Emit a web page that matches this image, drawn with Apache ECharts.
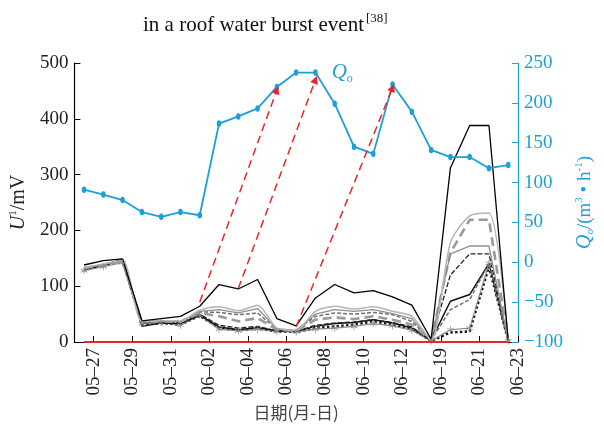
<!DOCTYPE html>
<html>
<head>
<meta charset="utf-8">
<script src="https://cdn.jsdelivr.net/npm/echarts@6/dist/echarts.min.js"></script>
<style>
  html, body { margin: 0; padding: 0; background: #fff; }
  #chart { width: 604px; height: 426px; }
</style>
</head>
<body>
<div id="chart"></div>
<script>
// Date ticks shown along the bottom axis (every other one is labelled)
const dateTicks = ['05-26', '05-27', '05-28', '05-29', '05-30', '05-31', '06-01', '06-02',
  '06-03', '06-04', '06-05', '06-06', '06-07', '06-08', '06-09', '06-10', '06-11', '06-12',
  '06-18', '06-19', '06-20', '06-21', '06-22', '06-23'];

// Sampling points of the monitoring record
const samples = ['1', '2', '3', '4', '5', '6', '7', '8', '9', '10', '11', '12', '13', '14',
  '15', '16', '17', '18', '19', '20', '21', '22', '23'];

// Water inflow Qo, m3/h (right axis)
const qFlow = [91, 85, 78, 63, 57, 63, 59, 174, 183, 193, 220, 238, 238, 199, 145, 136,
  223, 189, 141, 132, 132, 118, 122];

// Electrode potential U1 of the individual channels, mV (left axis)
const uTop      = [138, 146, 149, 38, 42, 46, 64, 103, 95, 112, 42, 29, 79, 103, 88, 92, 81, 66, 5, 312, 388, 388, 2];
const uLight    = [133, 140, 146, 37, 38, 38, 57, 63, 56, 66, 25, 21, 55, 64, 59, 63, 55, 46, 3, 178, 226, 231, 2];
const uMid      = [132, 139, 145, 36, 37, 37, 55, 58, 52, 60, 24, 20, 50, 58, 55, 58, 51, 42, 3, 158, 172, 172, 2];
const uLongDash = [132, 138, 145, 35, 37, 36, 52, 46, 37, 43, 22, 20, 40, 44, 41, 46, 40, 31, 3, 160, 219, 219, 2];
const uShort    = [133, 139, 146, 36, 38, 37, 54, 53, 49, 52, 23, 21, 46, 52, 50, 53, 49, 37, 3, 58, 76, 141, 2];
const uBlkDash  = [131, 139, 147, 34, 36, 35, 50, 30, 25, 28, 20, 19, 30, 34, 36, 40, 35, 27, 3, 120, 158, 158, 2];
const uBlk      = [130, 138, 148, 28, 34, 33, 48, 27, 22, 26, 20, 19, 28, 33, 35, 40, 34, 25, 3, 73, 85, 141, 2];
const uStar     = [128, 135, 142, 33, 35, 30, 48, 23, 20, 23, 19, 18, 23, 25, 28, 33, 29, 21, 2, 22, 25, 141, 2];
const uDot      = [130, 137, 146, 32, 34, 31, 47, 25, 21, 24, 19, 18, 25, 28, 31, 37, 31, 23, 2, 17, 19, 135, 2];
const baseline  = [0, 0, 0, 0, 0, 0, 0, 0, 0, 0, 0, 0, 0, 0, 0, 0, 0, 0, 0, 0, 0, 0, 0];

// Lag arrows: from the potential rise to the inflow peak (x: sample index, y: Qo axis units)
const lagArrows = [
  { from: [6, -50], to: [10, 216] },
  { from: [8, -33], to: [12, 229] },
  { from: [11, -81], to: [16, 219] }
];
const qLabelIndex = 12;

const SERIF = '"Liberation Serif", "DejaVu Serif", serif';
const BLUE = '#1c9fdb';
const RED = '#e8262a';
const ASTERISK = 'path://M4.5,0 L5.5,0 L5.5,10 L4.5,10 Z M0.42,2.93 L0.92,2.07 L9.58,7.07 L9.08,7.93 Z M0.92,7.93 L0.42,7.07 L9.08,2.07 L9.58,2.93 Z';

const chart = echarts.init(document.getElementById('chart'), null, { renderer: 'canvas' });

function uSeries(data, color, width, type, extra) {
  return Object.assign({
    type: 'line', xAxisIndex: 1, yAxisIndex: 0, data: data,
    symbol: 'none', animation: false,
    lineStyle: { color: color, width: width, type: type }
  }, extra || {});
}

const qData = qFlow.map((v, i) => i === qLabelIndex ? {
  value: v,
  label: {
    show: true, position: 'right', distance: 14,
    formatter: '{q|Q}{o|o}',
    rich: {
      q: { fontFamily: SERIF, fontStyle: 'italic', fontSize: 21, color: BLUE, lineHeight: 24 },
      o: { fontFamily: SERIF, fontSize: 12, color: BLUE, verticalAlign: 'bottom', lineHeight: 14 }
    }
  }
} : v);

chart.setOption({
  animation: false,
  backgroundColor: '#fff',
  title: {
    text: '{t|in a roof water burst event}{s|[38]}',
    left: 138, top: 7,
    textStyle: {
      fontWeight: 'normal',
      rich: {
        t: { fontFamily: SERIF, fontSize: 21, fontWeight: 'normal', color: '#111', lineHeight: 26 },
        s: { fontFamily: SERIF, fontSize: 13, fontWeight: 'normal', color: '#111', verticalAlign: 'top', lineHeight: 14, padding: [0, 0, 0, 2] }
      }
    }
  },
  grid: { left: 73, right: 74, top: 63, bottom: 84, containLabel: false },
  xAxis: [
    {
      type: 'category', data: dateTicks, boundaryGap: false, position: 'bottom',
      name: '日期(月-日)', nameLocation: 'middle', nameGap: 62,
      nameTextStyle: { fontFamily: '"Noto Sans CJK SC", sans-serif', fontSize: 17, color: '#444' },
      axisLine: { lineStyle: { color: '#000', width: 1.2 } },
      axisTick: { inside: true, length: 6, interval: (i) => i % 2 === 1, lineStyle: { color: '#000' } },
      axisLabel: {
        interval: (i) => i % 2 === 1, rotate: 90, margin: 6,
        fontFamily: SERIF, fontSize: 19, color: '#222',
        formatter: (v) => v.replace('-', '–')
      },
      splitLine: { show: false }
    },
    {
      type: 'category', data: samples, boundaryGap: true, show: false
    }
  ],
  yAxis: [
    {
      type: 'value', min: 0, max: 500, interval: 100, position: 'left',
      name: '{i|U}{sup|1}{n|/mV}', nameLocation: 'middle', nameGap: 42, nameRotate: 90,
      nameTextStyle: {
        rich: {
          i: { fontFamily: SERIF, fontStyle: 'italic', fontSize: 20, color: '#222', lineHeight: 22 },
          sup: { fontFamily: SERIF, fontSize: 11, color: '#222', verticalAlign: 'top', lineHeight: 12 },
          n: { fontFamily: SERIF, fontSize: 20, color: '#222', lineHeight: 22 }
        }
      },
      axisLine: { show: true, lineStyle: { color: '#000', width: 1.2 } },
      axisTick: { show: true, inside: true, length: 6, lineStyle: { color: '#000' } },
      axisLabel: { fontFamily: SERIF, fontSize: 19, color: '#222', margin: 6 },
      splitLine: { show: false }
    },
    {
      type: 'value', min: -100, max: 250, interval: 50, position: 'right',
      name: '{i|Q}{sub|o}{n|/(m}{sup|3}{n| • h}{sup|-1}{n|)}', nameLocation: 'middle', nameGap: 44, nameRotate: 90,
      nameTextStyle: {
        rich: {
          i: { fontFamily: SERIF, fontStyle: 'italic', fontSize: 20, color: BLUE, lineHeight: 22 },
          sub: { fontFamily: SERIF, fontStyle: 'italic', fontSize: 11, color: BLUE, verticalAlign: 'bottom', lineHeight: 12 },
          sup: { fontFamily: SERIF, fontSize: 11, color: BLUE, verticalAlign: 'top', lineHeight: 12 },
          n: { fontFamily: SERIF, fontSize: 19, color: BLUE, lineHeight: 22 }
        }
      },
      axisLine: { show: true, lineStyle: { color: BLUE, width: 1.2 } },
      axisTick: { show: true, inside: true, length: 6, lineStyle: { color: BLUE } },
      axisLabel: {
        fontFamily: SERIF, fontSize: 19, color: BLUE, margin: 6,
        formatter: (v) => String(v).replace('-', '−')
      },
      splitLine: { show: false }
    }
  ],
  series: [
    uSeries(uDot, '#111', 2.4, 'dotted'),
    uSeries(uStar, '#8a8a8a', 1.2, 'solid', { symbol: ASTERISK, symbolSize: 7, showSymbol: true, itemStyle: { color: '#8a8a8a' } }),
    uSeries(uBlk, '#111', 1.5, 'solid'),
    uSeries(uBlkDash, '#222', 1.3, [5, 2]),
    uSeries(uShort, '#6f6f6f', 1.5, [4, 2]),
    uSeries(uLongDash, '#9a9a9a', 2.6, [9, 5]),
    uSeries(uMid, '#8f8f8f', 1.3, 'solid'),
    uSeries(uLight, '#b5b5b5', 1.5, 'solid', { smooth: 0.25 }),
    uSeries(uTop, '#000', 1.3, 'solid'),
    uSeries(baseline, RED, 1.8, 'solid', { z: 4, clip: false }),
    {
      type: 'line', xAxisIndex: 1, yAxisIndex: 1, data: qData, z: 5,
      symbol: 'circle', symbolSize: [4.5, 6.5], showSymbol: true,
      lineStyle: { color: BLUE, width: 1.8 }, itemStyle: { color: BLUE }
    },
    {
      type: 'lines', coordinateSystem: 'cartesian2d', xAxisIndex: 1, yAxisIndex: 1, z: 6,
      symbol: ['none', 'triangle'], symbolSize: 8,
      lineStyle: { color: RED, width: 1.5, type: [8, 5], opacity: 1 },
      data: lagArrows.map(a => ({ coords: [a.from, a.to] }))
    }
  ]
});
</script>
</body>
</html>
